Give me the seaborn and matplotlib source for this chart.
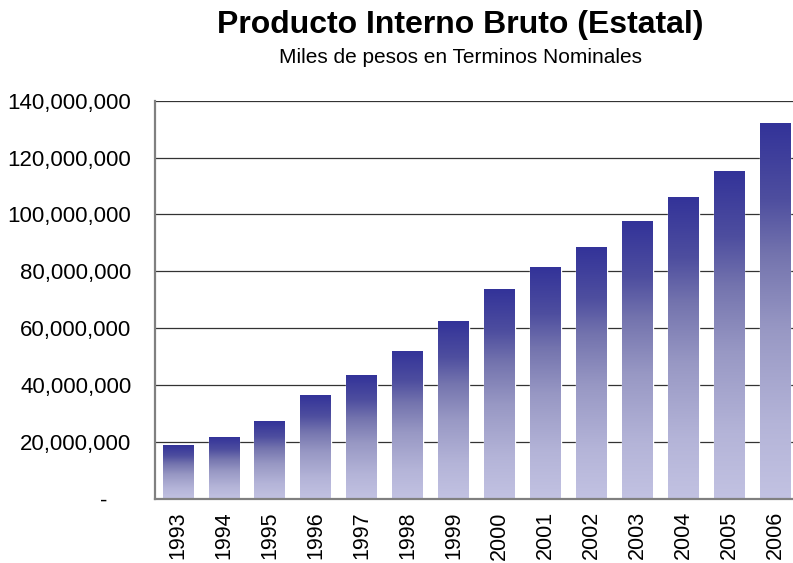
import matplotlib
matplotlib.use("Agg")
import matplotlib.pyplot as plt
import seaborn as sns
import numpy as np
from matplotlib.colors import LinearSegmentedColormap
from matplotlib.ticker import FuncFormatter, FixedLocator

years = ["1993", "1994", "1995", "1996", "1997", "1998", "1999",
         "2000", "2001", "2002", "2003", "2004", "2005", "2006"]
pib = [18.9e6, 21.7e6, 27.3e6, 36.5e6, 43.5e6, 52.0e6, 62.5e6,
       73.8e6, 81.5e6, 88.5e6, 97.7e6, 106.1e6, 115.3e6, 132.1e6]
yticks = [0, 20e6, 40e6, 60e6, 80e6, 100e6, 120e6, 140e6]

sns.set_style("white")
plt.rcParams['font.family'] = ['Liberation Sans', 'DejaVu Sans']
plt.rcParams['text.color'] = 'black'
plt.rcParams['xtick.labelcolor'] = 'black'
plt.rcParams['ytick.labelcolor'] = 'black'

fig = plt.figure(figsize=(7.93, 5.63), dpi=100)
ax = fig.add_axes([155 / 793, 64.3 / 563, 643 / 793, 398 / 563])

sns.barplot(x=years, y=pib, width=0.67, color="#8080b8", ax=ax, zorder=2)

# vertical gradient on each bar (dark on top, light at bottom)
cmap = LinearSegmentedColormap.from_list(
    "grad", [(0, "#c2c2e2"), (0.2, "#b4b4d8"), (0.45, "#9898c4"),
             (0.65, "#7474ae"), (0.8, "#4e4e9f"), (1, "#333399")])
grad = np.linspace(1, 0, 256).reshape(-1, 1)
for p in ax.patches:
    x0, w, h = p.get_x(), p.get_width(), p.get_height()
    p.set_facecolor("none")
    im = ax.imshow(grad, cmap=cmap, vmin=0, vmax=1, aspect="auto",
                   extent=[x0, x0 + w, 0, h], zorder=2, interpolation="bilinear")
    im.set_clip_path(p)

ax.set_xlim(-0.5, 13.5)
ax.set_ylim(0, 140e6)
ax.set_yticks(yticks)
ax.yaxis.set_major_formatter(FuncFormatter(lambda v, _: "-    " if v == 0 else f"{v:,.0f}"))
ax.grid(axis="y", color="#333333", linewidth=0.9, zorder=1)
ax.set_axisbelow(True)

ax.xaxis.set_minor_locator(FixedLocator(np.arange(-0.5, 14, 1)))
ax.tick_params(axis="x", which="major", length=0, pad=9, labelsize=15.5, rotation=90)
ax.tick_params(axis="x", which="minor", length=5, width=1.2, color="#555555", direction="out")
ax.tick_params(axis="y", length=5, width=1.2, color="#777777", direction="out", pad=12, labelsize=16)
ax.set_xlabel("")
ax.set_ylabel("")

for s in ["top", "right"]:
    ax.spines[s].set_visible(False)
for s in ["left", "bottom"]:
    ax.spines[s].set_color("#808080")
    ax.spines[s].set_linewidth(1.6)

fig.text(460 / 793, 1 - 25 / 563, "Producto Interno Bruto (Estatal)",
         ha="center", va="center", fontsize=23, fontweight="bold")
fig.text(461 / 793, 1 - 58 / 563, "Miles de pesos en Terminos Nominales",
         ha="center", va="center", fontsize=15)

fig.savefig("out.png", dpi=100)
